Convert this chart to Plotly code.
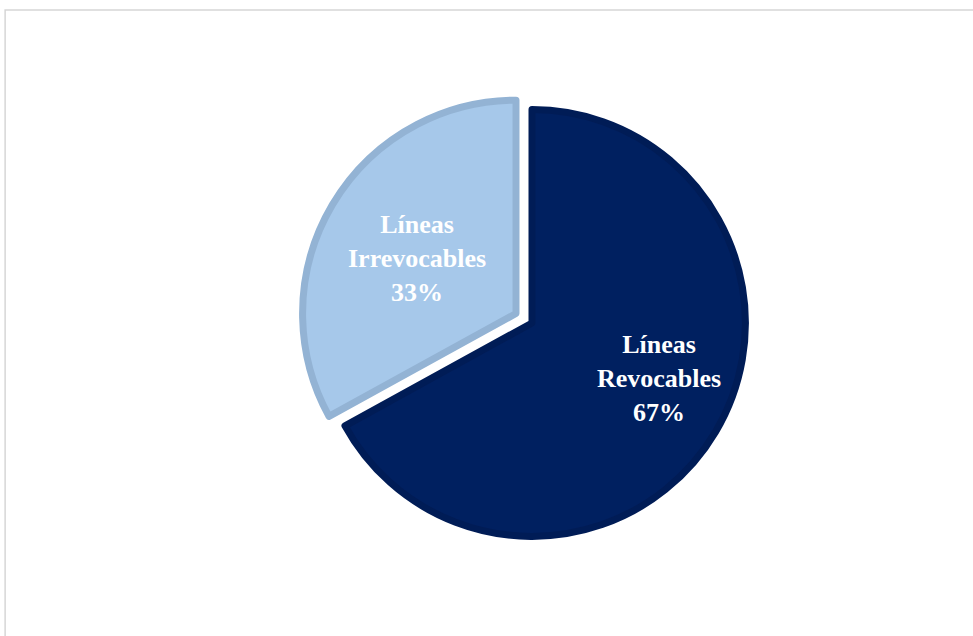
import math
import plotly.graph_objects as go

# Credit lines by revocability (share of total)
labels = ["Líneas Revocables", "Líneas Irrevocables"]
label_lines = ["Líneas<br>Revocables", "Líneas<br>Irrevocables"]
shares = [67, 33]

fill_colors = ["#002060", "#A6C8EA"]
edge_colors = ["#001C56", "#93B3D4"]
pulls = [0.0, 0.0871]

W, H = 973, 636
ml, mt, box = 299.5, 90.5, 464.2
mr = W - ml - box
mb = H - mt - box

fig = go.Figure(
    go.Pie(
        labels=labels,
        values=shares,
        textinfo="none",
        sort=False,
        direction="clockwise",
        rotation=0,
        pull=pulls,
        marker=dict(colors=fill_colors, line=dict(color=edge_colors, width=[7, 7])),
        hoverinfo="label+percent",
        showlegend=False,
    )
)


def px_to_paper_x(px):
    return (px - ml) / box


def px_to_paper_y(py):
    return (H - mb - py) / box


# pie geometry in pixels (same rule plotly uses for the radius)
cx, cy = ml + box / 2, mt + box / 2
radius = box / (2 * (1 + max(pulls)))

# slice labels: placed along each slice's mid-angle, offset by its pull
label_angle_nudge = [-7.0, -1.5]
label_radius_frac = [0.649, 0.531]
total = sum(shares)
start = 0.0
for i, share in enumerate(shares):
    span = 360.0 * share / total
    mid = math.radians(start + span / 2)
    ang = math.radians(start + span / 2 + label_angle_nudge[i])
    ox = cx + pulls[i] * radius * math.sin(mid)
    oy = cy - pulls[i] * radius * math.cos(mid)
    tx = ox + label_radius_frac[i] * radius * math.sin(ang)
    ty = oy - label_radius_frac[i] * radius * math.cos(ang)
    fig.add_annotation(
        x=px_to_paper_x(tx), y=px_to_paper_y(ty),
        xref="paper", yref="paper",
        text=f"<b>{label_lines[i]}<br>{share}%</b>",
        showarrow=False,
        xanchor="center", yanchor="middle", align="center",
        font=dict(family="Liberation Serif", size=26, color="white"),
    )
    start += span

# thin grey frame around the chart area
fig.add_shape(
    type="rect",
    xref="paper", yref="paper",
    x0=px_to_paper_x(4.5), x1=px_to_paper_x(1000),
    y0=px_to_paper_y(700), y1=px_to_paper_y(9.5),
    line=dict(color="#D6D6D6", width=1.5),
    fillcolor="rgba(0,0,0,0)",
    layer="below",
)

fig.update_layout(
    width=W,
    height=H,
    margin=dict(l=ml, r=mr, t=mt, b=mb, autoexpand=False),
    paper_bgcolor="white",
    plot_bgcolor="white",
)

fig.write_html("out.html")
